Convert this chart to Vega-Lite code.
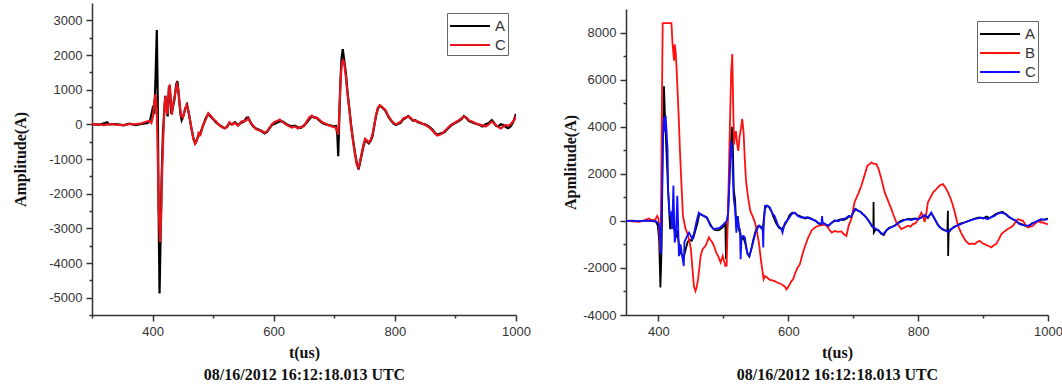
{
"$schema": "https://vega.github.io/schema/vega-lite/v6.json",
"padding": {"left": 12, "top": 3, "right": 0, "bottom": 0},
"spacing": 31,
"background": "white",
"resolve": {"scale": {"color": "independent"}, "legend": {"color": "independent"}},
"config": {
  "view": {"stroke": null},
  "axis": {"domainColor": "#333333", "domainWidth": 1.5, "tickColor": "#333333", "tickWidth": 1.5, "labelFont": "Liberation Sans", "labelFontSize": 13, "labelColor": "#333333", "titleFont": "Liberation Serif", "titleFontWeight": "bold", "titleFontSize": 16, "titleColor": "#111111", "grid": false, "labelPadding": 4, "labelFlush": false, "labelOverlap": false},
  "legend": {"orient": "none", "strokeColor": "#666666", "padding": 2, "symbolType": "M-2,0H2", "symbolSize": 400, "symbolStrokeWidth": 2, "symbolOffset": 10, "labelFont": "Liberation Sans", "labelFontSize": 15, "labelColor": "#333333", "labelOffset": 14, "rowPadding": 0, "fillColor": "white"}
},
"datasets": {
"left": [
{"t":300,"v":0,"s":"A"},{"t":312,"v":-10,"s":"A"},{"t":325,"v":60,"s":"A"},{"t":328,"v":0,"s":"A"},{"t":340,"v":10,"s":"A"},{"t":352,"v":-30,"s":"A"},{"t":362,"v":20,"s":"A"},{"t":372,"v":-20,"s":"A"},{"t":382,"v":10,"s":"A"},{"t":392,"v":40,"s":"A"},{"t":396,"v":120,"s":"A"},{"t":400,"v":450,"s":"A"},{"t":403,"v":300,"s":"A"},{"t":405,"v":1400,"s":"A"},{"t":407,"v":2720,"s":"A"},{"t":408.5,"v":800,"s":"A"},{"t":410,"v":-2500,"s":"A"},{"t":411.5,"v":-4880,"s":"A"},{"t":413,"v":-3500,"s":"A"},{"t":415,"v":-1500,"s":"A"},{"t":417,"v":-300,"s":"A"},{"t":419,"v":300,"s":"A"},{"t":421,"v":820,"s":"A"},{"t":423,"v":500,"s":"A"},{"t":425,"v":230,"s":"A"},{"t":427,"v":1100,"s":"A"},{"t":429,"v":900,"s":"A"},{"t":431,"v":300,"s":"A"},{"t":433,"v":450,"s":"A"},{"t":436,"v":700,"s":"A"},{"t":439,"v":1150,"s":"A"},{"t":441,"v":1250,"s":"A"},{"t":443,"v":900,"s":"A"},{"t":446,"v":300,"s":"A"},{"t":448,"v":120,"s":"A"},{"t":451,"v":250,"s":"A"},{"t":454,"v":450,"s":"A"},{"t":457,"v":560,"s":"A"},{"t":460,"v":300,"s":"A"},{"t":464,"v":-100,"s":"A"},{"t":468,"v":-450,"s":"A"},{"t":471,"v":-530,"s":"A"},{"t":474,"v":-400,"s":"A"},{"t":477,"v":-300,"s":"A"},{"t":480,"v":-200,"s":"A"},{"t":484,"v":0,"s":"A"},{"t":488,"v":180,"s":"A"},{"t":492,"v":300,"s":"A"},{"t":496,"v":220,"s":"A"},{"t":500,"v":150,"s":"A"},{"t":505,"v":50,"s":"A"},{"t":509,"v":0,"s":"A"},{"t":514,"v":-60,"s":"A"},{"t":519,"v":-110,"s":"A"},{"t":523,"v":-80,"s":"A"},{"t":527,"v":40,"s":"A"},{"t":531,"v":0,"s":"A"},{"t":536,"v":60,"s":"A"},{"t":541,"v":-20,"s":"A"},{"t":547,"v":50,"s":"A"},{"t":551,"v":80,"s":"A"},{"t":555,"v":190,"s":"A"},{"t":558,"v":200,"s":"A"},{"t":562,"v":50,"s":"A"},{"t":566,"v":-60,"s":"A"},{"t":570,"v":-110,"s":"A"},{"t":575,"v":-150,"s":"A"},{"t":580,"v":-200,"s":"A"},{"t":585,"v":-260,"s":"A"},{"t":589,"v":-220,"s":"A"},{"t":593,"v":-120,"s":"A"},{"t":597,"v":-20,"s":"A"},{"t":601,"v":10,"s":"A"},{"t":606,"v":50,"s":"A"},{"t":610,"v":90,"s":"A"},{"t":615,"v":80,"s":"A"},{"t":620,"v":20,"s":"A"},{"t":625,"v":-30,"s":"A"},{"t":630,"v":-60,"s":"A"},{"t":635,"v":-40,"s":"A"},{"t":640,"v":-90,"s":"A"},{"t":645,"v":-100,"s":"A"},{"t":650,"v":-30,"s":"A"},{"t":655,"v":60,"s":"A"},{"t":659,"v":150,"s":"A"},{"t":663,"v":230,"s":"A"},{"t":667,"v":200,"s":"A"},{"t":671,"v":180,"s":"A"},{"t":676,"v":100,"s":"A"},{"t":681,"v":30,"s":"A"},{"t":686,"v":0,"s":"A"},{"t":691,"v":-20,"s":"A"},{"t":696,"v":-40,"s":"A"},{"t":700,"v":-60,"s":"A"},{"t":703,"v":-50,"s":"A"},{"t":705,"v":-300,"s":"A"},{"t":706.5,"v":-920,"s":"A"},{"t":708,"v":0,"s":"A"},{"t":710,"v":1200,"s":"A"},{"t":712,"v":1900,"s":"A"},{"t":714,"v":2170,"s":"A"},{"t":716,"v":1900,"s":"A"},{"t":719,"v":1500,"s":"A"},{"t":722,"v":900,"s":"A"},{"t":725,"v":430,"s":"A"},{"t":728,"v":-50,"s":"A"},{"t":731,"v":-450,"s":"A"},{"t":734,"v":-800,"s":"A"},{"t":737,"v":-1100,"s":"A"},{"t":740,"v":-1300,"s":"A"},{"t":742,"v":-1150,"s":"A"},{"t":745,"v":-900,"s":"A"},{"t":748,"v":-650,"s":"A"},{"t":751,"v":-450,"s":"A"},{"t":754,"v":-500,"s":"A"},{"t":757,"v":-550,"s":"A"},{"t":760,"v":-480,"s":"A"},{"t":763,"v":-350,"s":"A"},{"t":766,"v":-50,"s":"A"},{"t":769,"v":250,"s":"A"},{"t":772,"v":450,"s":"A"},{"t":775,"v":540,"s":"A"},{"t":778,"v":500,"s":"A"},{"t":781,"v":450,"s":"A"},{"t":784,"v":400,"s":"A"},{"t":787,"v":300,"s":"A"},{"t":790,"v":200,"s":"A"},{"t":794,"v":100,"s":"A"},{"t":798,"v":20,"s":"A"},{"t":802,"v":-20,"s":"A"},{"t":806,"v":20,"s":"A"},{"t":810,"v":50,"s":"A"},{"t":814,"v":150,"s":"A"},{"t":818,"v":180,"s":"A"},{"t":822,"v":240,"s":"A"},{"t":826,"v":170,"s":"A"},{"t":830,"v":100,"s":"A"},{"t":834,"v":120,"s":"A"},{"t":838,"v":60,"s":"A"},{"t":842,"v":40,"s":"A"},{"t":846,"v":10,"s":"A"},{"t":850,"v":0,"s":"A"},{"t":854,"v":-40,"s":"A"},{"t":858,"v":-90,"s":"A"},{"t":862,"v":-150,"s":"A"},{"t":866,"v":-240,"s":"A"},{"t":870,"v":-300,"s":"A"},{"t":874,"v":-270,"s":"A"},{"t":878,"v":-250,"s":"A"},{"t":882,"v":-230,"s":"A"},{"t":886,"v":-150,"s":"A"},{"t":890,"v":-80,"s":"A"},{"t":894,"v":-20,"s":"A"},{"t":898,"v":20,"s":"A"},{"t":902,"v":60,"s":"A"},{"t":906,"v":100,"s":"A"},{"t":910,"v":150,"s":"A"},{"t":914,"v":240,"s":"A"},{"t":918,"v":180,"s":"A"},{"t":922,"v":100,"s":"A"},{"t":926,"v":70,"s":"A"},{"t":930,"v":40,"s":"A"},{"t":935,"v":10,"s":"A"},{"t":940,"v":-20,"s":"A"},{"t":945,"v":-60,"s":"A"},{"t":950,"v":0,"s":"A"},{"t":955,"v":40,"s":"A"},{"t":960,"v":120,"s":"A"},{"t":963,"v":60,"s":"A"},{"t":967,"v":-40,"s":"A"},{"t":971,"v":-60,"s":"A"},{"t":975,"v":0,"s":"A"},{"t":979,"v":-20,"s":"A"},{"t":983,"v":-80,"s":"A"},{"t":987,"v":-110,"s":"A"},{"t":991,"v":-60,"s":"A"},{"t":995,"v":50,"s":"A"},{"t":998,"v":200,"s":"A"},{"t":1000,"v":300,"s":"A"},
{"t":300,"v":0,"s":"C"},{"t":312,"v":0,"s":"C"},{"t":320,"v":-20,"s":"C"},{"t":330,"v":10,"s":"C"},{"t":340,"v":-10,"s":"C"},{"t":352,"v":-20,"s":"C"},{"t":362,"v":10,"s":"C"},{"t":372,"v":0,"s":"C"},{"t":382,"v":30,"s":"C"},{"t":390,"v":80,"s":"C"},{"t":395,"v":100,"s":"C"},{"t":398,"v":40,"s":"C"},{"t":401,"v":250,"s":"C"},{"t":403,"v":700,"s":"C"},{"t":405,"v":870,"s":"C"},{"t":407,"v":400,"s":"C"},{"t":408.5,"v":-800,"s":"C"},{"t":410,"v":-2400,"s":"C"},{"t":412.5,"v":-3400,"s":"C"},{"t":414,"v":-2700,"s":"C"},{"t":416,"v":-1200,"s":"C"},{"t":418,"v":-200,"s":"C"},{"t":420,"v":600,"s":"C"},{"t":421.5,"v":820,"s":"C"},{"t":423,"v":400,"s":"C"},{"t":425,"v":300,"s":"C"},{"t":427,"v":1000,"s":"C"},{"t":428.5,"v":1150,"s":"C"},{"t":430,"v":700,"s":"C"},{"t":432,"v":280,"s":"C"},{"t":434,"v":600,"s":"C"},{"t":437,"v":850,"s":"C"},{"t":440,"v":1150,"s":"C"},{"t":442,"v":1050,"s":"C"},{"t":444,"v":700,"s":"C"},{"t":447,"v":250,"s":"C"},{"t":450,"v":200,"s":"C"},{"t":453,"v":400,"s":"C"},{"t":456,"v":560,"s":"C"},{"t":459,"v":400,"s":"C"},{"t":463,"v":0,"s":"C"},{"t":467,"v":-400,"s":"C"},{"t":470,"v":-560,"s":"C"},{"t":473,"v":-480,"s":"C"},{"t":476,"v":-250,"s":"C"},{"t":479,"v":-300,"s":"C"},{"t":483,"v":-50,"s":"C"},{"t":488,"v":150,"s":"C"},{"t":492,"v":320,"s":"C"},{"t":496,"v":250,"s":"C"},{"t":500,"v":160,"s":"C"},{"t":505,"v":80,"s":"C"},{"t":509,"v":-10,"s":"C"},{"t":514,"v":-80,"s":"C"},{"t":519,"v":-120,"s":"C"},{"t":523,"v":-60,"s":"C"},{"t":527,"v":60,"s":"C"},{"t":531,"v":-10,"s":"C"},{"t":536,"v":40,"s":"C"},{"t":541,"v":-40,"s":"C"},{"t":547,"v":80,"s":"C"},{"t":551,"v":100,"s":"C"},{"t":555,"v":120,"s":"C"},{"t":558,"v":180,"s":"C"},{"t":562,"v":30,"s":"C"},{"t":566,"v":-30,"s":"C"},{"t":570,"v":-130,"s":"C"},{"t":575,"v":-170,"s":"C"},{"t":580,"v":-180,"s":"C"},{"t":585,"v":-240,"s":"C"},{"t":589,"v":-200,"s":"C"},{"t":593,"v":-100,"s":"C"},{"t":597,"v":0,"s":"C"},{"t":601,"v":60,"s":"C"},{"t":606,"v":100,"s":"C"},{"t":610,"v":140,"s":"C"},{"t":615,"v":60,"s":"C"},{"t":620,"v":0,"s":"C"},{"t":625,"v":-50,"s":"C"},{"t":630,"v":-90,"s":"C"},{"t":635,"v":-60,"s":"C"},{"t":640,"v":-120,"s":"C"},{"t":645,"v":-80,"s":"C"},{"t":650,"v":-50,"s":"C"},{"t":655,"v":100,"s":"C"},{"t":659,"v":200,"s":"C"},{"t":663,"v":250,"s":"C"},{"t":667,"v":180,"s":"C"},{"t":671,"v":200,"s":"C"},{"t":676,"v":120,"s":"C"},{"t":681,"v":50,"s":"C"},{"t":686,"v":20,"s":"C"},{"t":691,"v":-30,"s":"C"},{"t":696,"v":-60,"s":"C"},{"t":700,"v":-80,"s":"C"},{"t":703,"v":-100,"s":"C"},{"t":705,"v":-200,"s":"C"},{"t":706.5,"v":-300,"s":"C"},{"t":708,"v":200,"s":"C"},{"t":710,"v":1100,"s":"C"},{"t":712,"v":1700,"s":"C"},{"t":714,"v":1850,"s":"C"},{"t":716,"v":1800,"s":"C"},{"t":719,"v":1400,"s":"C"},{"t":722,"v":850,"s":"C"},{"t":725,"v":400,"s":"C"},{"t":728,"v":-100,"s":"C"},{"t":731,"v":-500,"s":"C"},{"t":734,"v":-850,"s":"C"},{"t":737,"v":-1150,"s":"C"},{"t":740,"v":-1250,"s":"C"},{"t":742,"v":-1100,"s":"C"},{"t":745,"v":-850,"s":"C"},{"t":748,"v":-600,"s":"C"},{"t":751,"v":-420,"s":"C"},{"t":754,"v":-470,"s":"C"},{"t":757,"v":-520,"s":"C"},{"t":760,"v":-450,"s":"C"},{"t":763,"v":-300,"s":"C"},{"t":766,"v":-20,"s":"C"},{"t":769,"v":280,"s":"C"},{"t":772,"v":480,"s":"C"},{"t":775,"v":550,"s":"C"},{"t":778,"v":520,"s":"C"},{"t":781,"v":470,"s":"C"},{"t":784,"v":420,"s":"C"},{"t":787,"v":320,"s":"C"},{"t":790,"v":220,"s":"C"},{"t":794,"v":120,"s":"C"},{"t":798,"v":40,"s":"C"},{"t":802,"v":0,"s":"C"},{"t":806,"v":40,"s":"C"},{"t":810,"v":80,"s":"C"},{"t":814,"v":170,"s":"C"},{"t":818,"v":200,"s":"C"},{"t":822,"v":220,"s":"C"},{"t":826,"v":190,"s":"C"},{"t":830,"v":120,"s":"C"},{"t":834,"v":100,"s":"C"},{"t":838,"v":80,"s":"C"},{"t":842,"v":50,"s":"C"},{"t":846,"v":20,"s":"C"},{"t":850,"v":-20,"s":"C"},{"t":854,"v":-60,"s":"C"},{"t":858,"v":-110,"s":"C"},{"t":862,"v":-180,"s":"C"},{"t":866,"v":-260,"s":"C"},{"t":870,"v":-320,"s":"C"},{"t":874,"v":-300,"s":"C"},{"t":878,"v":-270,"s":"C"},{"t":882,"v":-200,"s":"C"},{"t":886,"v":-130,"s":"C"},{"t":890,"v":-60,"s":"C"},{"t":894,"v":0,"s":"C"},{"t":898,"v":40,"s":"C"},{"t":902,"v":80,"s":"C"},{"t":906,"v":120,"s":"C"},{"t":910,"v":180,"s":"C"},{"t":914,"v":220,"s":"C"},{"t":918,"v":200,"s":"C"},{"t":922,"v":120,"s":"C"},{"t":926,"v":90,"s":"C"},{"t":930,"v":60,"s":"C"},{"t":935,"v":20,"s":"C"},{"t":940,"v":-10,"s":"C"},{"t":945,"v":-30,"s":"C"},{"t":950,"v":-60,"s":"C"},{"t":955,"v":0,"s":"C"},{"t":960,"v":80,"s":"C"},{"t":963,"v":40,"s":"C"},{"t":967,"v":-20,"s":"C"},{"t":971,"v":-80,"s":"C"},{"t":975,"v":-120,"s":"C"},{"t":979,"v":-60,"s":"C"},{"t":983,"v":-20,"s":"C"},{"t":987,"v":-40,"s":"C"},{"t":991,"v":0,"s":"C"},{"t":995,"v":80,"s":"C"},{"t":998,"v":150,"s":"C"},{"t":1000,"v":250,"s":"C"}
],
"right": [
{"t":350,"v":0,"s":"A"},{"t":360,"v":10,"s":"A"},{"t":370,"v":-20,"s":"A"},{"t":380,"v":20,"s":"A"},{"t":388,"v":0,"s":"A"},{"t":396,"v":-30,"s":"A"},{"t":399,"v":-200,"s":"A"},{"t":401,"v":-800,"s":"A"},{"t":403,"v":-2830,"s":"A"},{"t":405,"v":-1000,"s":"A"},{"t":406.5,"v":3000,"s":"A"},{"t":408.5,"v":5720,"s":"A"},{"t":410,"v":4500,"s":"A"},{"t":411,"v":3800,"s":"A"},{"t":413,"v":2500,"s":"A"},{"t":414.5,"v":1500,"s":"A"},{"t":416,"v":700,"s":"A"},{"t":418,"v":-350,"s":"A"},{"t":420,"v":200,"s":"A"},{"t":421.5,"v":350,"s":"A"},{"t":423,"v":-100,"s":"A"},{"t":425,"v":-500,"s":"A"},{"t":427,"v":-700,"s":"A"},{"t":429,"v":-400,"s":"A"},{"t":431,"v":-900,"s":"A"},{"t":434,"v":-1350,"s":"A"},{"t":437,"v":-1500,"s":"A"},{"t":439,"v":-1550,"s":"A"},{"t":442,"v":-1200,"s":"A"},{"t":445,"v":-900,"s":"A"},{"t":448,"v":-800,"s":"A"},{"t":451,"v":-850,"s":"A"},{"t":454,"v":-700,"s":"A"},{"t":457,"v":-400,"s":"A"},{"t":460,"v":-100,"s":"A"},{"t":463,"v":300,"s":"A"},{"t":466,"v":280,"s":"A"},{"t":470,"v":200,"s":"A"},{"t":474,"v":150,"s":"A"},{"t":478,"v":-50,"s":"A"},{"t":482,"v":-250,"s":"A"},{"t":486,"v":-380,"s":"A"},{"t":490,"v":-400,"s":"A"},{"t":494,"v":-380,"s":"A"},{"t":498,"v":-300,"s":"A"},{"t":501,"v":-200,"s":"A"},{"t":503,"v":-150,"s":"A"},{"t":504,"v":-1630,"s":"A"},{"t":505,"v":-700,"s":"A"},{"t":507,"v":300,"s":"A"},{"t":509,"v":1500,"s":"A"},{"t":511,"v":3000,"s":"A"},{"t":513,"v":4000,"s":"A"},{"t":514.5,"v":3300,"s":"A"},{"t":516,"v":1300,"s":"A"},{"t":518,"v":900,"s":"A"},{"t":520,"v":-300,"s":"A"},{"t":522,"v":200,"s":"A"},{"t":524,"v":-400,"s":"A"},{"t":526,"v":-500,"s":"A"},{"t":528,"v":-800,"s":"A"},{"t":531,"v":-700,"s":"A"},{"t":534,"v":-1000,"s":"A"},{"t":537,"v":-1400,"s":"A"},{"t":540,"v":-1520,"s":"A"},{"t":543,"v":-1200,"s":"A"},{"t":546,"v":-800,"s":"A"},{"t":549,"v":-500,"s":"A"},{"t":552,"v":-250,"s":"A"},{"t":555,"v":-200,"s":"A"},{"t":558,"v":-300,"s":"A"},{"t":561,"v":-250,"s":"A"},{"t":564,"v":500,"s":"A"},{"t":567,"v":650,"s":"A"},{"t":570,"v":600,"s":"A"},{"t":574,"v":400,"s":"A"},{"t":578,"v":100,"s":"A"},{"t":582,"v":-150,"s":"A"},{"t":586,"v":-300,"s":"A"},{"t":590,"v":-350,"s":"A"},{"t":594,"v":-200,"s":"A"},{"t":598,"v":0,"s":"A"},{"t":602,"v":250,"s":"A"},{"t":606,"v":350,"s":"A"},{"t":610,"v":330,"s":"A"},{"t":614,"v":250,"s":"A"},{"t":618,"v":200,"s":"A"},{"t":622,"v":150,"s":"A"},{"t":626,"v":100,"s":"A"},{"t":630,"v":150,"s":"A"},{"t":634,"v":120,"s":"A"},{"t":638,"v":50,"s":"A"},{"t":642,"v":0,"s":"A"},{"t":646,"v":-100,"s":"A"},{"t":650,"v":-170,"s":"A"},{"t":654,"v":-150,"s":"A"},{"t":658,"v":-170,"s":"A"},{"t":662,"v":-220,"s":"A"},{"t":666,"v":-100,"s":"A"},{"t":670,"v":-20,"s":"A"},{"t":675,"v":10,"s":"A"},{"t":680,"v":60,"s":"A"},{"t":685,"v":30,"s":"A"},{"t":690,"v":100,"s":"A"},{"t":694,"v":200,"s":"A"},{"t":697,"v":150,"s":"A"},{"t":700,"v":350,"s":"A"},{"t":704,"v":500,"s":"A"},{"t":708,"v":420,"s":"A"},{"t":712,"v":380,"s":"A"},{"t":716,"v":250,"s":"A"},{"t":720,"v":150,"s":"A"},{"t":724,"v":0,"s":"A"},{"t":728,"v":-200,"s":"A"},{"t":731,"v":-300,"s":"A"},{"t":731.3,"v":800,"s":"A"},{"t":731.7,"v":-500,"s":"A"},{"t":735,"v":-350,"s":"A"},{"t":739,"v":-400,"s":"A"},{"t":743,"v":-550,"s":"A"},{"t":747,"v":-600,"s":"A"},{"t":751,"v":-400,"s":"A"},{"t":755,"v":-300,"s":"A"},{"t":760,"v":-250,"s":"A"},{"t":764,"v":-200,"s":"A"},{"t":768,"v":-100,"s":"A"},{"t":772,"v":-30,"s":"A"},{"t":776,"v":30,"s":"A"},{"t":781,"v":50,"s":"A"},{"t":786,"v":80,"s":"A"},{"t":790,"v":70,"s":"A"},{"t":795,"v":100,"s":"A"},{"t":800,"v":80,"s":"A"},{"t":805,"v":150,"s":"A"},{"t":810,"v":200,"s":"A"},{"t":815,"v":120,"s":"A"},{"t":820,"v":330,"s":"A"},{"t":823,"v":200,"s":"A"},{"t":826,"v":70,"s":"A"},{"t":830,"v":-150,"s":"A"},{"t":834,"v":-280,"s":"A"},{"t":838,"v":-380,"s":"A"},{"t":842,"v":-420,"s":"A"},{"t":845,"v":-450,"s":"A"},{"t":845.8,"v":430,"s":"A"},{"t":846.2,"v":-1490,"s":"A"},{"t":847,"v":-500,"s":"A"},{"t":850,"v":-380,"s":"A"},{"t":855,"v":-250,"s":"A"},{"t":860,"v":-200,"s":"A"},{"t":865,"v":-120,"s":"A"},{"t":870,"v":-80,"s":"A"},{"t":875,"v":-30,"s":"A"},{"t":880,"v":20,"s":"A"},{"t":886,"v":80,"s":"A"},{"t":890,"v":120,"s":"A"},{"t":895,"v":150,"s":"A"},{"t":900,"v":100,"s":"A"},{"t":905,"v":180,"s":"A"},{"t":910,"v":120,"s":"A"},{"t":915,"v":200,"s":"A"},{"t":920,"v":300,"s":"A"},{"t":925,"v":350,"s":"A"},{"t":930,"v":380,"s":"A"},{"t":935,"v":280,"s":"A"},{"t":940,"v":150,"s":"A"},{"t":945,"v":80,"s":"A"},{"t":950,"v":0,"s":"A"},{"t":955,"v":-100,"s":"A"},{"t":960,"v":-150,"s":"A"},{"t":965,"v":-200,"s":"A"},{"t":970,"v":-250,"s":"A"},{"t":975,"v":-100,"s":"A"},{"t":980,"v":-60,"s":"A"},{"t":985,"v":0,"s":"A"},{"t":990,"v":50,"s":"A"},{"t":995,"v":60,"s":"A"},{"t":1000,"v":100,"s":"A"},
{"t":350,"v":0,"s":"B"},{"t":360,"v":-20,"s":"B"},{"t":370,"v":-40,"s":"B"},{"t":378,"v":10,"s":"B"},{"t":385,"v":100,"s":"B"},{"t":390,"v":20,"s":"B"},{"t":395,"v":50,"s":"B"},{"t":398,"v":210,"s":"B"},{"t":400,"v":100,"s":"B"},{"t":401.5,"v":-600,"s":"B"},{"t":403,"v":-1300,"s":"B"},{"t":404,"v":500,"s":"B"},{"t":405,"v":4000,"s":"B"},{"t":406,"v":7000,"s":"B"},{"t":406.5,"v":8400,"s":"B"},{"t":420,"v":8400,"s":"B"},{"t":421.5,"v":7600,"s":"B"},{"t":423,"v":7100,"s":"B"},{"t":424,"v":6800,"s":"B"},{"t":425,"v":7500,"s":"B"},{"t":426.5,"v":7200,"s":"B"},{"t":428,"v":6400,"s":"B"},{"t":430,"v":5180,"s":"B"},{"t":431.5,"v":4200,"s":"B"},{"t":433,"v":3050,"s":"B"},{"t":435,"v":1800,"s":"B"},{"t":437.7,"v":210,"s":"B"},{"t":440,"v":-100,"s":"B"},{"t":441.8,"v":-350,"s":"B"},{"t":444,"v":-500,"s":"B"},{"t":447,"v":-780,"s":"B"},{"t":450,"v":-1200,"s":"B"},{"t":452,"v":-1915,"s":"B"},{"t":454.6,"v":-2770,"s":"B"},{"t":457,"v":-2980,"s":"B"},{"t":459,"v":-2800,"s":"B"},{"t":461,"v":-2480,"s":"B"},{"t":463,"v":-2000,"s":"B"},{"t":465,"v":-1490,"s":"B"},{"t":468,"v":-1200,"s":"B"},{"t":472.6,"v":-1060,"s":"B"},{"t":475,"v":-900,"s":"B"},{"t":477.7,"v":-700,"s":"B"},{"t":480,"v":-800,"s":"B"},{"t":483,"v":-920,"s":"B"},{"t":486,"v":-1100,"s":"B"},{"t":489,"v":-1350,"s":"B"},{"t":492,"v":-1500,"s":"B"},{"t":495.7,"v":-1770,"s":"B"},{"t":497,"v":-1650,"s":"B"},{"t":499,"v":-1490,"s":"B"},{"t":501,"v":-1700,"s":"B"},{"t":503,"v":-1915,"s":"B"},{"t":505,"v":-1900,"s":"B"},{"t":506,"v":-800,"s":"B"},{"t":508,"v":1500,"s":"B"},{"t":510,"v":4000,"s":"B"},{"t":512,"v":6300,"s":"B"},{"t":513.7,"v":7090,"s":"B"},{"t":515,"v":5000,"s":"B"},{"t":516.5,"v":3240,"s":"B"},{"t":518,"v":3700,"s":"B"},{"t":519.5,"v":3800,"s":"B"},{"t":521,"v":3300,"s":"B"},{"t":523,"v":2970,"s":"B"},{"t":525,"v":3600,"s":"B"},{"t":527,"v":3900,"s":"B"},{"t":529,"v":4330,"s":"B"},{"t":531,"v":3800,"s":"B"},{"t":533,"v":2600,"s":"B"},{"t":535,"v":1660,"s":"B"},{"t":538,"v":1000,"s":"B"},{"t":541.8,"v":390,"s":"B"},{"t":545,"v":200,"s":"B"},{"t":547,"v":50,"s":"B"},{"t":549,"v":-100,"s":"B"},{"t":552,"v":-500,"s":"B"},{"t":555,"v":-1000,"s":"B"},{"t":558,"v":-1700,"s":"B"},{"t":562,"v":-2480,"s":"B"},{"t":564,"v":-2350,"s":"B"},{"t":567,"v":-2400,"s":"B"},{"t":571,"v":-2500,"s":"B"},{"t":575,"v":-2530,"s":"B"},{"t":579,"v":-2560,"s":"B"},{"t":583,"v":-2620,"s":"B"},{"t":586,"v":-2650,"s":"B"},{"t":589.5,"v":-2690,"s":"B"},{"t":592,"v":-2750,"s":"B"},{"t":595,"v":-2800,"s":"B"},{"t":597,"v":-2910,"s":"B"},{"t":599,"v":-2850,"s":"B"},{"t":602,"v":-2700,"s":"B"},{"t":605,"v":-2560,"s":"B"},{"t":608,"v":-2450,"s":"B"},{"t":610,"v":-2270,"s":"B"},{"t":614,"v":-2000,"s":"B"},{"t":617.7,"v":-1850,"s":"B"},{"t":621,"v":-1500,"s":"B"},{"t":625,"v":-1130,"s":"B"},{"t":630,"v":-750,"s":"B"},{"t":635.7,"v":-420,"s":"B"},{"t":640,"v":-300,"s":"B"},{"t":646,"v":-210,"s":"B"},{"t":651,"v":-180,"s":"B"},{"t":656,"v":-140,"s":"B"},{"t":660,"v":-250,"s":"B"},{"t":663.8,"v":-400,"s":"B"},{"t":667,"v":-500,"s":"B"},{"t":671.5,"v":-430,"s":"B"},{"t":676,"v":-470,"s":"B"},{"t":681.8,"v":-450,"s":"B"},{"t":685,"v":-550,"s":"B"},{"t":689.5,"v":-640,"s":"B"},{"t":693,"v":-200,"s":"B"},{"t":697,"v":70,"s":"B"},{"t":702,"v":790,"s":"B"},{"t":707,"v":1100,"s":"B"},{"t":712.6,"v":1500,"s":"B"},{"t":717,"v":1900,"s":"B"},{"t":721.8,"v":2340,"s":"B"},{"t":725,"v":2400,"s":"B"},{"t":728,"v":2480,"s":"B"},{"t":731,"v":2430,"s":"B"},{"t":735.7,"v":2410,"s":"B"},{"t":739,"v":2200,"s":"B"},{"t":743.4,"v":1780,"s":"B"},{"t":748.5,"v":1210,"s":"B"},{"t":753,"v":900,"s":"B"},{"t":758.8,"v":500,"s":"B"},{"t":762,"v":250,"s":"B"},{"t":766.5,"v":-70,"s":"B"},{"t":770,"v":-200,"s":"B"},{"t":774,"v":-350,"s":"B"},{"t":779,"v":-280,"s":"B"},{"t":784.5,"v":-210,"s":"B"},{"t":788,"v":-250,"s":"B"},{"t":792,"v":-140,"s":"B"},{"t":796,"v":-100,"s":"B"},{"t":800,"v":70,"s":"B"},{"t":805,"v":350,"s":"B"},{"t":808,"v":150,"s":"B"},{"t":810,"v":-50,"s":"B"},{"t":812,"v":200,"s":"B"},{"t":815,"v":790,"s":"B"},{"t":819,"v":1000,"s":"B"},{"t":823,"v":1210,"s":"B"},{"t":828,"v":1350,"s":"B"},{"t":833,"v":1500,"s":"B"},{"t":838.3,"v":1560,"s":"B"},{"t":842,"v":1420,"s":"B"},{"t":846,"v":1210,"s":"B"},{"t":850,"v":950,"s":"B"},{"t":853.7,"v":640,"s":"B"},{"t":857,"v":300,"s":"B"},{"t":861.4,"v":-210,"s":"B"},{"t":866,"v":-500,"s":"B"},{"t":871.5,"v":-780,"s":"B"},{"t":875,"v":-900,"s":"B"},{"t":879,"v":-990,"s":"B"},{"t":883,"v":-960,"s":"B"},{"t":887,"v":-990,"s":"B"},{"t":891,"v":-900,"s":"B"},{"t":894.6,"v":-850,"s":"B"},{"t":899,"v":-950,"s":"B"},{"t":903,"v":-1000,"s":"B"},{"t":907.5,"v":-1060,"s":"B"},{"t":912.6,"v":-1130,"s":"B"},{"t":916,"v":-1050,"s":"B"},{"t":920,"v":-990,"s":"B"},{"t":924,"v":-800,"s":"B"},{"t":928,"v":-570,"s":"B"},{"t":933,"v":-450,"s":"B"},{"t":938,"v":-350,"s":"B"},{"t":942,"v":-280,"s":"B"},{"t":946,"v":-210,"s":"B"},{"t":950,"v":-50,"s":"B"},{"t":953.7,"v":70,"s":"B"},{"t":958,"v":30,"s":"B"},{"t":961.4,"v":0,"s":"B"},{"t":965,"v":-150,"s":"B"},{"t":969,"v":-280,"s":"B"},{"t":973,"v":-250,"s":"B"},{"t":976.8,"v":-210,"s":"B"},{"t":981,"v":-100,"s":"B"},{"t":984.5,"v":0,"s":"B"},{"t":988,"v":-60,"s":"B"},{"t":992,"v":-70,"s":"B"},{"t":996,"v":-120,"s":"B"},{"t":1000,"v":-140,"s":"B"},
{"t":350,"v":0,"s":"C"},{"t":360,"v":0,"s":"C"},{"t":370,"v":-10,"s":"C"},{"t":380,"v":10,"s":"C"},{"t":390,"v":0,"s":"C"},{"t":396,"v":-20,"s":"C"},{"t":400,"v":-100,"s":"C"},{"t":402,"v":-400,"s":"C"},{"t":403.5,"v":-1420,"s":"C"},{"t":405,"v":500,"s":"C"},{"t":407,"v":3500,"s":"C"},{"t":408.5,"v":4400,"s":"C"},{"t":410,"v":3800,"s":"C"},{"t":411,"v":4470,"s":"C"},{"t":412.5,"v":3800,"s":"C"},{"t":414,"v":3050,"s":"C"},{"t":415,"v":1230,"s":"C"},{"t":417.5,"v":210,"s":"C"},{"t":419,"v":300,"s":"C"},{"t":421,"v":-350,"s":"C"},{"t":422,"v":500,"s":"C"},{"t":423,"v":1500,"s":"C"},{"t":424,"v":300,"s":"C"},{"t":425,"v":-920,"s":"C"},{"t":427,"v":-600,"s":"C"},{"t":429,"v":1070,"s":"C"},{"t":430,"v":200,"s":"C"},{"t":431.5,"v":-1500,"s":"C"},{"t":434,"v":-1000,"s":"C"},{"t":436,"v":-1400,"s":"C"},{"t":439,"v":-1920,"s":"C"},{"t":440,"v":-900,"s":"C"},{"t":442,"v":-780,"s":"C"},{"t":445,"v":-600,"s":"C"},{"t":447,"v":-500,"s":"C"},{"t":450,"v":-650,"s":"C"},{"t":452,"v":-780,"s":"C"},{"t":455,"v":-500,"s":"C"},{"t":458,"v":-100,"s":"C"},{"t":462,"v":350,"s":"C"},{"t":466,"v":250,"s":"C"},{"t":470,"v":210,"s":"C"},{"t":475,"v":140,"s":"C"},{"t":480,"v":-210,"s":"C"},{"t":485,"v":-350,"s":"C"},{"t":490,"v":-320,"s":"C"},{"t":494,"v":-300,"s":"C"},{"t":498,"v":-210,"s":"C"},{"t":503,"v":-70,"s":"C"},{"t":505,"v":-10,"s":"C"},{"t":507.5,"v":350,"s":"C"},{"t":509,"v":1500,"s":"C"},{"t":511,"v":3050,"s":"C"},{"t":512.5,"v":3400,"s":"C"},{"t":514,"v":2400,"s":"C"},{"t":516,"v":920,"s":"C"},{"t":518,"v":500,"s":"C"},{"t":520,"v":-500,"s":"C"},{"t":522,"v":200,"s":"C"},{"t":524,"v":-300,"s":"C"},{"t":525.5,"v":-350,"s":"C"},{"t":526.5,"v":-1630,"s":"C"},{"t":528,"v":-700,"s":"C"},{"t":531,"v":-640,"s":"C"},{"t":533,"v":-700,"s":"C"},{"t":536.7,"v":-1350,"s":"C"},{"t":540,"v":-1490,"s":"C"},{"t":544.5,"v":-1060,"s":"C"},{"t":549.5,"v":-500,"s":"C"},{"t":554.6,"v":-210,"s":"C"},{"t":558,"v":-250,"s":"C"},{"t":560.5,"v":-400,"s":"C"},{"t":561.4,"v":-1130,"s":"C"},{"t":562,"v":-300,"s":"C"},{"t":564,"v":640,"s":"C"},{"t":567,"v":640,"s":"C"},{"t":571.5,"v":570,"s":"C"},{"t":576,"v":300,"s":"C"},{"t":579,"v":210,"s":"C"},{"t":584.5,"v":-210,"s":"C"},{"t":589.5,"v":-350,"s":"C"},{"t":591,"v":-500,"s":"C"},{"t":594.6,"v":-100,"s":"C"},{"t":600,"v":70,"s":"C"},{"t":605,"v":280,"s":"C"},{"t":610,"v":350,"s":"C"},{"t":615,"v":200,"s":"C"},{"t":620,"v":140,"s":"C"},{"t":628,"v":150,"s":"C"},{"t":635.7,"v":70,"s":"C"},{"t":640.8,"v":20,"s":"C"},{"t":646,"v":-80,"s":"C"},{"t":651,"v":-140,"s":"C"},{"t":652,"v":200,"s":"C"},{"t":653,"v":-70,"s":"C"},{"t":661.4,"v":-210,"s":"C"},{"t":666,"v":-100,"s":"C"},{"t":671.5,"v":30,"s":"C"},{"t":677,"v":-20,"s":"C"},{"t":682,"v":70,"s":"C"},{"t":688,"v":100,"s":"C"},{"t":693,"v":210,"s":"C"},{"t":697,"v":180,"s":"C"},{"t":702,"v":500,"s":"C"},{"t":706,"v":450,"s":"C"},{"t":710,"v":400,"s":"C"},{"t":714,"v":300,"s":"C"},{"t":717.7,"v":210,"s":"C"},{"t":721,"v":100,"s":"C"},{"t":725.4,"v":-70,"s":"C"},{"t":729,"v":-200,"s":"C"},{"t":732,"v":-300,"s":"C"},{"t":735.7,"v":-350,"s":"C"},{"t":740,"v":-450,"s":"C"},{"t":746,"v":-570,"s":"C"},{"t":750,"v":-450,"s":"C"},{"t":753.7,"v":-350,"s":"C"},{"t":758,"v":-280,"s":"C"},{"t":764,"v":-210,"s":"C"},{"t":769,"v":-100,"s":"C"},{"t":774,"v":-40,"s":"C"},{"t":781.8,"v":70,"s":"C"},{"t":789.5,"v":30,"s":"C"},{"t":795,"v":80,"s":"C"},{"t":800,"v":60,"s":"C"},{"t":805,"v":140,"s":"C"},{"t":810,"v":250,"s":"C"},{"t":815,"v":140,"s":"C"},{"t":820.3,"v":350,"s":"C"},{"t":825.4,"v":70,"s":"C"},{"t":829,"v":-100,"s":"C"},{"t":833,"v":-280,"s":"C"},{"t":838,"v":-350,"s":"C"},{"t":843.4,"v":-420,"s":"C"},{"t":846,"v":-480,"s":"C"},{"t":848,"v":-400,"s":"C"},{"t":851,"v":-350,"s":"C"},{"t":855,"v":-280,"s":"C"},{"t":858.8,"v":-210,"s":"C"},{"t":865,"v":-150,"s":"C"},{"t":871.5,"v":-70,"s":"C"},{"t":880,"v":20,"s":"C"},{"t":887,"v":70,"s":"C"},{"t":892,"v":100,"s":"C"},{"t":897.2,"v":140,"s":"C"},{"t":902,"v":120,"s":"C"},{"t":907.5,"v":70,"s":"C"},{"t":912,"v":150,"s":"C"},{"t":917.7,"v":210,"s":"C"},{"t":922,"v":300,"s":"C"},{"t":928,"v":350,"s":"C"},{"t":932,"v":320,"s":"C"},{"t":935.7,"v":280,"s":"C"},{"t":941,"v":150,"s":"C"},{"t":946,"v":70,"s":"C"},{"t":951,"v":0,"s":"C"},{"t":956,"v":-140,"s":"C"},{"t":962,"v":-180,"s":"C"},{"t":969,"v":-210,"s":"C"},{"t":974,"v":-150,"s":"C"},{"t":979,"v":-70,"s":"C"},{"t":984,"v":0,"s":"C"},{"t":989,"v":70,"s":"C"},{"t":995,"v":40,"s":"C"},{"t":1000,"v":70,"s":"C"}
]
},
"hconcat": [
{
  "width": 424, "height": 312,
  "data": {"name": "left"},
  "mark": {"type": "line", "strokeWidth": 2.2, "clip": true},
  "encoding": {
    "x": {"field": "t", "type": "quantitative", "scale": {"domain": [300, 1000], "nice": false, "zero": false},
      "axis": {"values": [300,400,500,600,700,800,900,1000], "labelExpr": "datum.value % 200 === 0 && datum.value > 300 ? '' + datum.value : ''", "tickSize": {"condition": {"test": "datum.value % 200 === 0", "value": 6}, "value": 3}, "title": ["t(us)", "08/16/2012 16:12:18.013 UTC"], "titleLineHeight": 22, "titlePadding": 6}},
    "y": {"field": "v", "type": "quantitative", "scale": {"domain": [-5500, 3500], "nice": false, "zero": false},
      "axis": {"values": [-5500,-5000,-4500,-4000,-3500,-3000,-2500,-2000,-1500,-1000,-500,0,500,1000,1500,2000,2500,3000], "labelExpr": "datum.value % 1000 === 0 ? '' + datum.value : ''", "tickSize": {"condition": {"test": "datum.value % 1000 === 0", "value": 6}, "value": 3}, "title": "Amplitude(A)", "titlePadding": 20}},
    "color": {"field": "s", "type": "nominal", "scale": {"domain": ["A", "C"], "range": ["#000000", "#e8141c"]}, "legend": {"title": null, "orient": "none", "legendX": 355, "legendY": 10}}
  }
},
{
  "width": 422, "height": 312,
  "data": {"name": "right"},
  "mark": {"type": "line", "strokeWidth": 1.8, "clip": true},
  "encoding": {
    "x": {"field": "t", "type": "quantitative", "scale": {"domain": [350, 1000], "nice": false, "zero": false},
      "axis": {"values": [400,500,600,700,800,900,1000], "labelExpr": "datum.value % 200 === 0 ? '' + datum.value : ''", "tickSize": {"condition": {"test": "datum.value % 200 === 0", "value": 6}, "value": 3}, "title": ["t(us)", "08/16/2012 16:12:18.013 UTC"], "titleLineHeight": 22, "titlePadding": 6}},
    "y": {"field": "v", "type": "quantitative", "scale": {"domain": [-4000, 9000], "nice": false, "zero": false, "range": [312, 6]},
      "axis": {"values": [-4000,-3000,-2000,-1000,0,1000,2000,3000,4000,5000,6000,7000,8000], "labelExpr": "datum.value % 2000 === 0 ? '' + datum.value : ''", "tickSize": {"condition": {"test": "datum.value % 2000 === 0", "value": 6}, "value": 3}, "title": "Apmlitude(A)", "titlePadding": 4}},
    "color": {"field": "s", "type": "nominal", "scale": {"domain": ["A", "B", "C"], "range": ["#000000", "#ff1010", "#1010ff"]}, "legend": {"title": null, "orient": "none", "legendX": 351, "legendY": 18}}
  }
}
]
}
